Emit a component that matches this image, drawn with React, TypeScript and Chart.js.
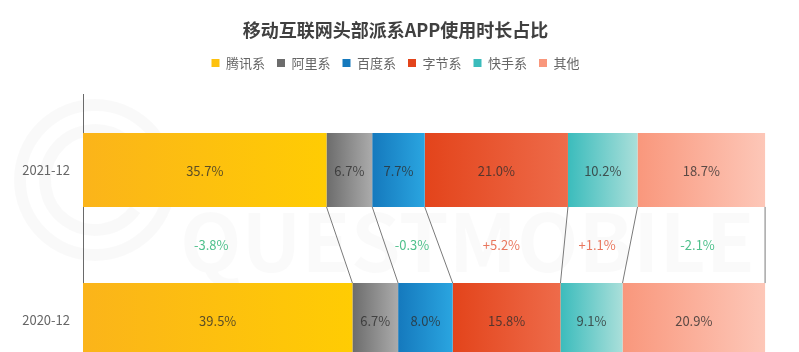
import React, { useEffect, useRef } from "react";
import { Chart, registerables } from "chart.js";

Chart.register(...registerables);

const categories = ["2021-12", "2020-12"];
const seriesNames = ["腾讯系", "阿里系", "百度系", "字节系", "快手系", "其他"];
const tencent = [35.7, 39.5];
const alibaba = [6.7, 6.7];
const baidu = [7.7, 8.0];
const bytedance = [21.0, 15.8];
const kuaishou = [10.2, 9.1];
const others = [18.7, 20.9];
const changeLabels = ["-3.8%", "", "-0.3%", "+5.2%", "+1.1%", "-2.1%"];
const titleText = "移动互联网头部派系APP使用时长占比";

const seriesValues = [tencent, alibaba, baidu, bytedance, kuaishou, others];
const legendColors = ["#F7B500", "#8A8A8A", "#1A8FD0", "#E4502A", "#5CC6C6", "#F8AA98"];
const gradientStops = [
  ["#FBB41A", "#FFCC03"],
  ["#6C6C6C", "#ABABAB"],
  ["#1579BD", "#2AA5E0"],
  ["#E3441B", "#EE6B4A"],
  ["#3BBCBC", "#AADFDA"],
  ["#F9977C", "#FDC7B8"],
];

const FONT = '"Noto Sans CJK SC", "Noto Sans", sans-serif';

const watermarkPlugin = {
  id: "watermark",
  beforeDraw(chart: any) {
    const ctx = chart.ctx;
    ctx.save();
    ctx.strokeStyle = "rgba(0,0,0,0.022)";
    ctx.lineWidth = 12;
    ctx.beginPath();
    ctx.arc(95, 180, 75, 0, Math.PI * 2);
    ctx.stroke();
    ctx.beginPath();
    ctx.arc(95, 180, 50, Math.PI * 0.2, Math.PI * 1.8);
    ctx.stroke();
    ctx.fillStyle = "rgba(0,0,0,0.018)";
    ctx.font = `bold 80px ${FONT}`;
    ctx.textBaseline = "alphabetic";
    ctx.fillText("QUESTMOBILE", 180, 272);
    ctx.restore();
  },
};

const labelPlugin = {
  id: "segLabels",
  afterDatasetsDraw(chart: any) {
    const ctx = chart.ctx;
    ctx.save();
    ctx.textAlign = "center";
    ctx.textBaseline = "middle";
    ctx.font = `13px ${FONT}`;
    chart.data.datasets.forEach((ds: any, i: number) => {
      const meta = chart.getDatasetMeta(i);
      meta.data.forEach((el: any, j: number) => {
        const p = el.getProps(["x", "base", "y"], true);
        ctx.fillStyle = "rgba(45,45,45,0.78)";
        ctx.fillText(Number(ds.data[j]).toFixed(1) + "%", (p.x + p.base) / 2, p.y + 1);
      });
    });
    ctx.strokeStyle = "#7a7a7a";
    ctx.lineWidth = 1;
    chart.data.datasets.forEach((ds: any, i: number) => {
      const meta = chart.getDatasetMeta(i);
      const a = meta.data[0].getProps(["x", "base", "y", "height"], true);
      const b = meta.data[1].getProps(["x", "base", "y", "height"], true);
      const bottomA = a.y + a.height / 2;
      const topB = b.y - b.height / 2;
      ctx.beginPath();
      ctx.moveTo(a.x, bottomA);
      ctx.lineTo(b.x, topB);
      ctx.stroke();
      const txt = changeLabels[i];
      if (txt) {
        const cx = ((a.x + a.base) / 2 + (b.x + b.base) / 2) / 2;
        const cy = (bottomA + topB) / 2;
        ctx.fillStyle = txt.startsWith("+") ? "#E9775E" : "#4FC08C";
        ctx.fillText(txt, cx, cy);
      }
    });
    ctx.restore();
  },
};

export default function App() {
  const ref = useRef<HTMLCanvasElement | null>(null);
  useEffect(() => {
    if (!ref.current) return;
    const datasets = seriesNames.map((name, i) => ({
      label: name,
      data: seriesValues[i],
      borderWidth: 0,
      categoryPercentage: 1,
      barPercentage: 0.493,
      backgroundColor: (c: any) => {
        const chart = c.chart;
        if (c.type !== "data" || !chart.chartArea) return legendColors[i];
        const idx = c.dataIndex;
        let start = 0;
        for (let k = 0; k < i; k++) start += seriesValues[k][idx];
        const end = start + seriesValues[i][idx];
        const x0 = chart.scales.x.getPixelForValue(start);
        const x1 = chart.scales.x.getPixelForValue(end);
        const g = chart.ctx.createLinearGradient(x0, 0, x1, 0);
        g.addColorStop(0, gradientStops[i][0]);
        g.addColorStop(1, gradientStops[i][1]);
        return g;
      },
    }));
    const chart = new Chart(ref.current, {
      type: "bar",
      data: { labels: categories, datasets },
      options: {
        indexAxis: "y",
        animation: false,
        responsive: false,
        maintainAspectRatio: false,
        devicePixelRatio: 1,
        layout: { padding: { left: 0, right: 8, top: 0, bottom: 0 } },
        plugins: {
          title: {
            display: true,
            text: titleText,
            color: "#404040",
            font: { family: FONT, size: 18, weight: "bold" },
            padding: { top: 19, bottom: 4 },
          },
          subtitle: {
            display: true,
            text: "",
            weight: 500,
            font: { size: 1 },
            padding: { top: 0, bottom: 14 },
          },
          legend: {
            display: true,
            labels: {
              color: "#666666",
              font: { family: FONT, size: 13 },
              boxWidth: 8,
              boxHeight: 8,
              padding: 12,
            },
          },
          tooltip: { enabled: false },
        },
        scales: {
          x: {
            stacked: true,
            min: 0,
            max: 103.8,
            display: false,
          },
          y: {
            stacked: true,
            grid: { display: false, drawTicks: false },
            border: { display: true, color: "#6a6a6a", width: 1 },
            ticks: {
              color: "#666666",
              font: { family: FONT, size: 13 },
              padding: 13,
            },
            afterFit: (scale: any) => {
              scale.width = 83;
            },
          },
        },
      },
      plugins: [watermarkPlugin, labelPlugin],
    } as any);
    return () => chart.destroy();
  }, []);
  return (
    <div
      style={{
        position: "absolute",
        left: 0,
        top: 0,
        width: 799,
        height: 352,
        overflow: "hidden",
        background: "#ffffff",
      }}
    >
      <canvas ref={ref} width={799} height={416} style={{ display: "block" }} />
    </div>
  );
}
